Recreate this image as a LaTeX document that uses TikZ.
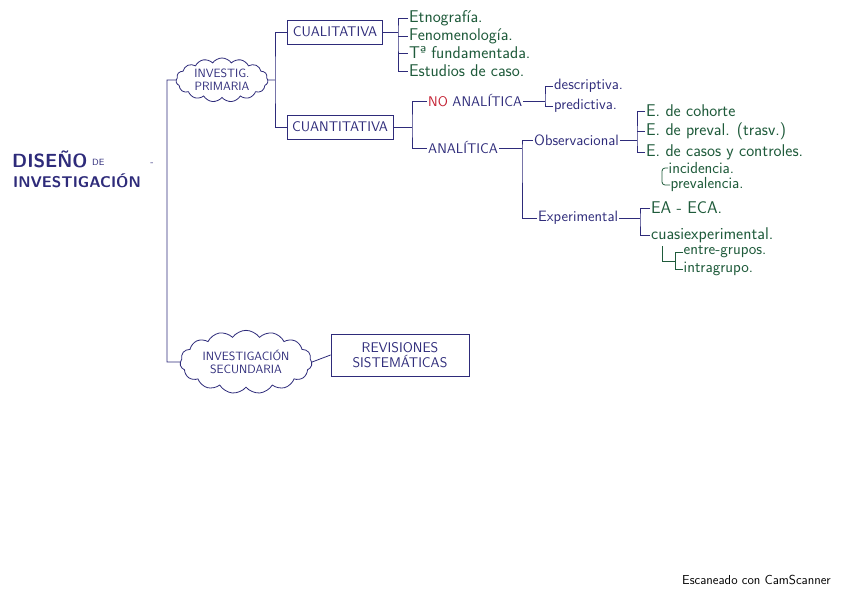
\documentclass[tikz,border=0pt]{standalone}
\usepackage{tikz}
\usetikzlibrary{shapes.symbols}
\definecolor{ink}{HTML}{2E2B7A}
\definecolor{inkgreen}{HTML}{1F5B3B}
\definecolor{inkred}{HTML}{C42032}

\begin{document}
\begin{tikzpicture}[x=1pt,y=-1pt,
    tipo/.style ={draw=ink, line width=0.8pt, text=ink, inner xsep=5pt,
                  minimum height=24pt, font=\sffamily\fontsize{14}{15}\selectfont},
    nube/.style ={cloud, cloud puffs=15, cloud puff arc=110, aspect=2.4, draw=ink,
                  line width=0.8pt, text=ink, align=center, inner sep=0pt,
                  font=\sffamily\fontsize{12}{13}\selectfont},
    rama/.style ={anchor=west, text=ink, inner sep=1pt, font=\sffamily\fontsize{14}{15}\selectfont},
    dato/.style ={anchor=west, text=ink, inner sep=1pt, font=\sffamily\fontsize{15}{16}\selectfont},
    hoja/.style ={anchor=west, text=inkgreen, inner sep=1pt, font=\sffamily\fontsize{17}{18}\selectfont},
    hojita/.style ={anchor=west, text=inkgreen, inner sep=0.5pt, font=\sffamily\fontsize{16}{16}\selectfont}]
   \useasboundingbox[fill=white] (0,0) rectangle (848,599);

   % titulo
   \node[anchor=west, text=ink, inner sep=0pt, font=\sffamily\bfseries\fontsize{19}{20}\selectfont] (dise) at (12,159) {DISEÑO};
   \node[anchor=west, text=ink, inner sep=0pt, font=\sffamily\fontsize{9}{10}\selectfont] (de) at (92,162) {DE};
   \node[anchor=west, text=ink, inner sep=0pt, font=\sffamily\bfseries\fontsize{15.5}{16}\selectfont] (inve) at (13,181) {INVESTIGACIÓN};
   \node[text=ink, inner sep=0pt] (guion) at (152,164) {-};

   \node[nube, minimum width=92pt, minimum height=44pt] (prim) at (222,80) {INVESTIG.\\PRIMARIA};
   \node[nube, minimum width=132pt, minimum height=46pt] (secu) at (246,362) {INVESTIGACIÓN\\SECUNDARIA};
   \node[tipo, align=center, minimum width=138pt, minimum height=42pt] (revi) at (400,355) {REVISIONES\\SISTEMÁTICAS};

   \node[tipo] (cual) at (335,32) {CUALITATIVA};
   \node[tipo] (cuan) at (340,127) {CUANTITATIVA};

   \node[hoja] (etno) at (408,18) {Etnografía.};
   \node[hoja] (feno) at (408,36) {Fenomenología.};
   \node[hoja] (teor) at (408,53) {Tª fundamentada.};
   \node[hoja] (estu) at (408,71) {Estudios de caso.};

   \node[rama] (noan) at (427,101) {\textcolor{inkred}{NO} ANALÍTICA};
   \node[rama] (anal) at (427,148) {ANALÍTICA};
   \node[dato] (desc) at (553,86) {descriptiva.};
   \node[dato] (pred) at (553,106) {predictiva.};
   \node[dato] (obse) at (533,140) {Observacional};
   \node[dato] (expe) at (537,218) {Experimental};

   \node[hoja] (coho) at (645,111) {E. de cohorte};
   \node[hoja] (prev) at (645,131) {E. de preval. (trasv.)};
   \node[hoja] (caco) at (645,152) {E. de casos y controles.};
   \node[hojita] (inci) at (668,168) {incidencia.};
   \node[hojita] (prva) at (670,185) {prevalencia.};
   \node[hoja] (eaec) at (650,208) {EA - ECA.};
   \node[hoja] (cuas) at (650,235) {cuasiexperimental.};
   \node[hojita] (entr) at (683,252) {entre-grupos.};
   \node[hojita] (intr) at (683,269) {intragrupo.};

   \node[anchor=east, inner sep=0pt, font=\sffamily\fontsize{13}{14}\selectfont] (scan) at (831,580) {Escaneado con CamScanner};

   \coordinate (b0) at (167,80);
   \coordinate (b1) at (275,80);
   \coordinate (b2) at (398,32);
   \coordinate (b3) at (412,127);
   \coordinate (b4) at (545,101);
   \coordinate (b5) at (522,148);
   \coordinate (b6) at (637,140);
   \coordinate (b7) at (662,177);
   \coordinate (b8) at (640,218);
   \coordinate (b9) at (675,261);
   \coordinate (l1) at (662,246);

   \begin{scope}[draw=ink, line width=0.8pt]
   \draw (prim.west) -- (b0) |- (secu.west);
   \draw (secu.east) -- (revi.west);
   \draw (prim.east) -- (b1);
   \draw (cual.west) -| (b1) |- (cuan.west);
   \draw (cual.east) -- (b2);
   \draw (etno.west) -| (b2) |- (estu.west);
   \draw (b2 |- feno.west) -- (feno.west);
   \draw (b2 |- teor.west) -- (teor.west);
   \draw (cuan.east) -- (b3);
   \draw (noan.west) -| (b3) |- (anal.west);
   \draw (noan.east) -- (b4);
   \draw (desc.west) -| (b4) |- (pred.west);
   \draw (anal.east) -- (b5);
   \draw (obse.west) -| (b5) |- (expe.west);
   \draw (obse.east) -- (b6);
   \draw (coho.west) -| (b6) |- (caco.west);
   \draw (b6 |- prev.west) -- (prev.west);
   \draw (expe.east) -- (b8);
   \draw (eaec.west) -| (b8) |- (cuas.west);
   \end{scope}
   \draw[inkgreen, line width=0.8pt, rounded corners=3pt] (inci.west) -| (b7) |- (prva.west);
   \draw[inkgreen, line width=0.8pt] (l1) |- (b9);
   \draw[inkgreen, line width=0.8pt] (entr.west) -| (b9) |- (intr.west);
 \end{tikzpicture}
\end{document}
